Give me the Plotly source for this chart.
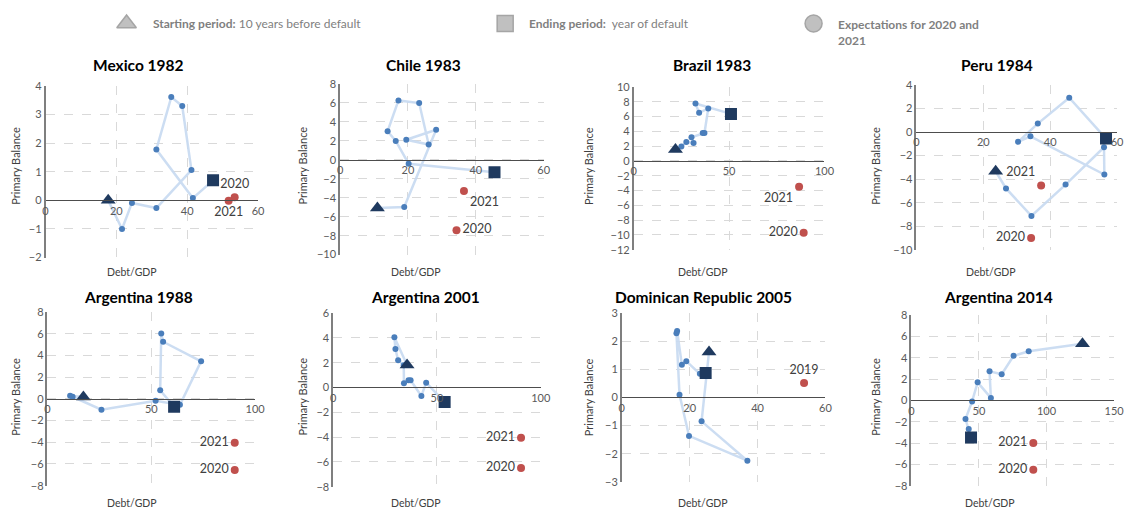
import plotly.graph_objects as go

W, H = 1132, 518

# ---------------- data (Debt/GDP, Primary Balance) ----------------
mexico_debt = [17.7, 21.6, 24.4, 31.3, 41.2, 38.6, 35.5, 31.3, 41.6, 47.3]
mexico_pb = [0.0, -1.0, -0.09, -0.27, 1.06, 3.3, 3.61, 1.78, 0.08, 0.7]
mexico_proj_debt = [53.4, 51.7]
mexico_proj_pb = [0.11, -0.01]
mexico_proj_labels = ["2020", "2021"]

chile_debt = [11.0, 18.9, 28.3, 19.5, 26.1, 23.3, 17.2, 14.0, 16.4, 20.2, 45.5]
chile_pb = [-5.07, -4.97, 3.18, 2.12, 1.61, 5.99, 6.27, 3.01, 1.99, -0.41, -1.30]
chile_proj_debt = [34.3, 36.5]
chile_proj_pb = [-7.43, -3.29]
chile_proj_labels = ["2020", "2021"]

brazil_debt = [21.9, 25.0, 27.6, 31.4, 30.3, 36.2, 37.1, 39.1, 34.3, 32.4, 51.0]
brazil_pb = [1.55, 1.95, 2.56, 2.43, 3.21, 3.78, 3.78, 7.1, 6.5, 7.77, 6.36]
brazil_proj_debt = [89.1, 86.7]
brazil_proj_pb = [-9.69, -3.48]
brazil_proj_labels = ["2020", "2021"]

peru_debt = [23.7, 26.8, 34.4, 44.6, 56.1, 56.2, 34.1, 30.4, 36.3, 45.7, 56.7]
peru_pb = [-3.33, -4.79, -7.13, -4.46, -1.29, -3.61, -0.36, -0.83, 0.72, 2.92, -0.55]
peru_proj_debt = [34.3, 37.3]
peru_proj_pb = [-9.0, -4.55]
peru_proj_labels = ["2020", "2021"]

arg1988_debt = [17.3, 10.9, 12.1, 26.0, 52.1, 63.8, 74.0, 55.7, 54.8, 54.3, 61.0]
arg1988_pb = [0.17, 0.29, 0.2, -1.0, -0.16, -0.55, 3.47, 5.27, 6.03, 0.8, -0.73]
arg1988_proj_debt = [90.2, 90.2]
arg1988_proj_pb = [-6.55, -4.05]
arg1988_proj_labels = ["2020", "2021"]

arg2001_debt = [35.6, 29.5, 30.0, 31.3, 34.0, 34.1, 36.3, 37.3, 42.5, 44.8, 53.7]
arg2001_pb = [1.82, 4.05, 3.1, 2.2, 1.8, 0.34, 0.58, 0.58, -0.68, 0.39, -1.18]
arg2001_proj_debt = [90.5, 90.5]
arg2001_proj_pb = [-6.5, -4.05]
arg2001_proj_labels = ["2020", "2021"]

dr_debt = [25.7, 23.5, 37.0, 19.8, 17.0, 16.1, 16.3, 17.7, 19.0, 23.0, 24.7]
dr_pb = [1.62, -0.85, -2.25, -1.37, 0.1, 2.28, 2.36, 1.16, 1.29, 0.84, 0.87]
dr_proj_debt = [53.7]
dr_proj_pb = [0.51]
dr_proj_labels = ["2019"]

arg2014_debt = [126.6, 86.8, 75.6, 66.8, 57.8, 58.8, 49.0, 44.9, 40.0, 42.4, 44.1]
arg2014_pb = [5.3, 4.6, 4.18, 2.45, 2.72, 0.23, 1.69, -0.1, -1.75, -2.69, -3.48]
arg2014_proj_debt = [90.2, 90.2]
arg2014_proj_pb = [-6.5, -4.0]
arg2014_proj_labels = ["2020", "2021"]

titles = ["Mexico 1982", "Chile 1983", "Brazil 1983", "Peru 1984",
          "Argentina 1988", "Argentina 2001", "Dominican Republic 2005", "Argentina 2014"]
x_ranges = [(0, 60, 20), (0, 60, 20), (0, 100, 50), (0, 60, 20),
            (0, 100, 50), (0, 100, 50), (0, 60, 20), (0, 150, 50)]
y_ranges = [(-2, 4, 1), (-10, 8, 2), (-12, 10, 2), (-10, 4, 2),
            (-8, 8, 2), (-8, 6, 2), (-3, 3, 1), (-8, 8, 2)]

# ---------------- layout / style config ----------------
series = [
    (mexico_debt, mexico_pb, mexico_proj_debt, mexico_proj_pb, mexico_proj_labels),
    (chile_debt, chile_pb, chile_proj_debt, chile_proj_pb, chile_proj_labels),
    (brazil_debt, brazil_pb, brazil_proj_debt, brazil_proj_pb, brazil_proj_labels),
    (peru_debt, peru_pb, peru_proj_debt, peru_proj_pb, peru_proj_labels),
    (arg1988_debt, arg1988_pb, arg1988_proj_debt, arg1988_proj_pb, arg1988_proj_labels),
    (arg2001_debt, arg2001_pb, arg2001_proj_debt, arg2001_proj_pb, arg2001_proj_labels),
    (dr_debt, dr_pb, dr_proj_debt, dr_proj_pb, dr_proj_labels),
    (arg2014_debt, arg2014_pb, arg2014_proj_debt, arg2014_proj_pb, arg2014_proj_labels),
]
label_pos = [
    ["top center", "bottom center"],
    ["middle right", "bottom right"],
    ["middle left", "bottom left"],
    ["middle left", "top left"],
    ["middle left", "middle left"],
    ["middle left", "middle left"],
    ["top center"],
    ["middle left", "middle left"],
]
# plot-area boxes in pixels: (left, right, top, bottom)
boxes = [(43, 258, 81, 257), (341, 547, 79, 254), (638, 831, 82, 249), (924, 1127, 80, 249),
         (45, 255, 313, 491), (334, 544, 314, 492), (626, 832, 314, 487), (919, 1124, 316, 491)]
title_pos = [(137, 59), (425, 59), (717, 59), (1006, 59),
             (137, 297), (427, 297), (709, 297), (1007, 297)]
ytitle_pos = [(13, 163), (303, 163), (593, 163), (883, 163),
              (13, 400), (303, 400), (593, 400), (883, 400)]
xtitle_pos = [(130, 272), (418, 272), (708, 272), (999, 272),
              (130, 509), (418, 509), (708, 509), (998, 509)]

FONT = "Lato, Open Sans, sans-serif"
LINE_C = "rgba(198,217,241,0.9)"
DOT_C = "#4a7ebb"
NAVY = "#1f3a5f"
RED = "#c0504d"
GRID_C = "#d9d9d9"
TXT = "#404040"

fig = go.Figure()
layout = dict(width=W, height=H, margin=dict(l=0, r=0, t=0, b=0),
              paper_bgcolor="white", plot_bgcolor="white", showlegend=False,
              font=dict(family=FONT, color=TXT))
annotations = []


def px_x(p):
    return p / W


def px_y(p):
    return 1 - p / H


for i in range(8):
    n = i + 1
    xa, ya = f"x{n}", f"y{n}"
    debt, pb, pdebt, ppb, plab = series[i]
    l, r, t, b = boxes[i]
    x0, x1, xd = x_ranges[i]
    y0, y1, yd = y_ranges[i]
    zero_py = t + (y1 - 0) / (y1 - y0) * (b - t)

    layout[f"xaxis{n}"] = dict(
        domain=[px_x(l), px_x(r)], range=[x0, x1], dtick=xd, tick0=0,
        anchor="free", position=px_y(zero_py),
        showgrid=True, gridcolor=GRID_C, griddash="dash", gridwidth=1,
        zeroline=False, showline=True, linecolor="#4d4d4d", linewidth=1.3,
        ticks="", tickfont=dict(size=11, color="#595959", family=FONT),
        fixedrange=True)
    layout[f"yaxis{n}"] = dict(
        domain=[px_y(b), px_y(t)], range=[y0, y1], dtick=yd, tick0=0,
        anchor=xa, showgrid=True, gridcolor=GRID_C, griddash="dash", gridwidth=1,
        zeroline=False, showline=True, linecolor="#7f7f7f", linewidth=1.5,
        ticks="", tickfont=dict(size=11, color="#595959", family=FONT),
        fixedrange=True)

    # connecting path
    fig.add_trace(go.Scatter(x=debt, y=pb, xaxis=xa, yaxis=ya, mode="lines",
                             line=dict(color=LINE_C, width=2.5), hoverinfo="skip"))
    # intermediate years
    fig.add_trace(go.Scatter(x=debt[1:-1], y=pb[1:-1], xaxis=xa, yaxis=ya, mode="markers",
                             marker=dict(color=DOT_C, size=6)))
    # start (triangle) and end (square)
    fig.add_trace(go.Scatter(x=debt[:1], y=pb[:1], xaxis=xa, yaxis=ya, mode="markers",
                             marker=dict(color=NAVY, size=13, symbol="triangle-up")))
    fig.add_trace(go.Scatter(x=debt[-1:], y=pb[-1:], xaxis=xa, yaxis=ya, mode="markers",
                             marker=dict(color=NAVY, size=12, symbol="square")))
    # projections
    fig.add_trace(go.Scatter(x=pdebt, y=ppb, xaxis=xa, yaxis=ya, mode="markers+text",
                             text=plab, textposition=label_pos[i],
                             textfont=dict(size=12.5, color=TXT, family=FONT),
                             marker=dict(color=RED, size=8)))

    tx, ty = title_pos[i]
    annotations.append(dict(text=f"<b>{titles[i]}</b>", x=px_x(tx), y=px_y(ty),
                            xref="paper", yref="paper", showarrow=False,
                            xanchor="center", yanchor="middle",
                            font=dict(size=15.5, color="black", family=FONT)))
    yx, yy = ytitle_pos[i]
    annotations.append(dict(text="Primary Balance", x=px_x(yx), y=px_y(yy),
                            xref="paper", yref="paper", showarrow=False, textangle=-90,
                            xanchor="center", yanchor="middle",
                            font=dict(size=11, color=TXT, family=FONT)))
    xx, xy = xtitle_pos[i]
    annotations.append(dict(text="Debt/GDP", x=px_x(xx), y=px_y(xy),
                            xref="paper", yref="paper", showarrow=False,
                            xanchor="center", yanchor="middle",
                            font=dict(size=10.5, color=TXT, family=FONT)))

# ---------------- legend strip (own hidden axes in pixel units) ----------------
legend_symbols = ["triangle-up", "square", "circle"]
legend_x_px = [125, 508, 820]
layout["xaxis9"] = dict(domain=[0, 1], range=[0, W], visible=False, anchor="y9", fixedrange=True)
layout["yaxis9"] = dict(domain=[px_y(45), 1], range=[45, 0], visible=False, anchor="x9", fixedrange=True)
fig.add_trace(go.Scatter(x=legend_x_px, y=[17, 17, 17], xaxis="x9", yaxis="y9", mode="markers",
                         marker=dict(symbol=legend_symbols, size=[17, 16, 17], color="#a6a6a6",
                                     line=dict(color="#7f7f7f", width=1.5)),
                         hoverinfo="skip"))
LEG_C = "#7f7f7f"
annotations.append(dict(text="<b>Starting period:</b> 10 years before default",
                        x=px_x(150), y=px_y(17), xref="paper", yref="paper", showarrow=False,
                        xanchor="left", yanchor="middle",
                        font=dict(size=12, color=LEG_C, family=FONT)))
annotations.append(dict(text="<b>Ending period:</b>  year of default",
                        x=px_x(530), y=px_y(17), xref="paper", yref="paper", showarrow=False,
                        xanchor="left", yanchor="middle",
                        font=dict(size=12, color=LEG_C, family=FONT)))
annotations.append(dict(text="<b>Expectations for 2020 and<br>2021</b>",
                        x=px_x(843), y=px_y(8), xref="paper", yref="paper", showarrow=False,
                        xanchor="left", yanchor="top", align="left",
                        font=dict(size=12, color=LEG_C, family=FONT)))

layout["annotations"] = annotations
fig.update_layout(**layout)
post = ("document.body.style.margin='0';document.body.style.overflow='hidden';"
        "var d=document.getElementById('{plot_id}');"
        "d.style.position='fixed';d.style.left='0px';d.style.top='0px';")
fig.write_html("out.html", post_script=post, config={"displayModeBar": False})
